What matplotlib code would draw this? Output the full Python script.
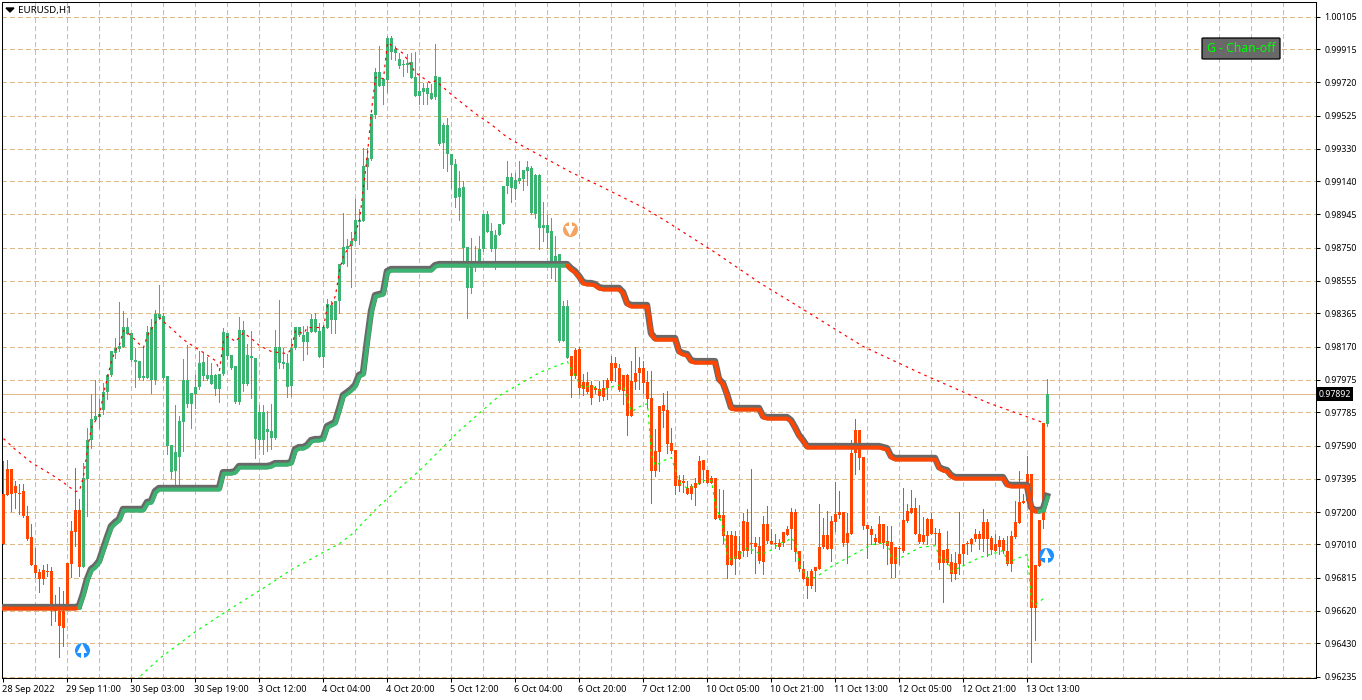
import matplotlib
matplotlib.use("Agg")
import matplotlib.pyplot as plt
import matplotlib.transforms as mtrans
from matplotlib.patches import FancyBboxPatch, Polygon
import numpy as np

# all prices in points (1/100000), bars are hourly and counted from the left
highs = [97502,97508,97455,97385,97367,97367,97238,97132,96992,96869,
    96887,96898,96875,96711,96763,96740,96904,97150,97461,97279,
    97490,97695,97894,97977,97865,97959,98012,98147,98223,98434,
    98381,98340,98252,98164,98088,98164,98293,98334,98387,98533,
    98369,97995,97596,97830,97766,98100,98182,97900,98006,98147,
    98135,98112,98076,98012,98012,98282,98252,98123,98059,98346,
    98323,98188,98264,98106,97830,97830,97795,97836,98270,98446,
    98164,98129,98217,98287,98287,98293,98293,98363,98369,98311,
    98287,98452,98440,98440,98657,98956,98804,98844,99038,98979,
    99337,99337,99536,99806,99935,99742,99994,99994,99935,99894,
    99853,99888,99894,99900,99777,99718,99718,99712,99947,99754,
    99484,99513,99302,99273,99202,99144,98757,98809,98762,98821,
    98950,98968,98897,98856,98891,99114,99261,99191,99191,99261,
    99208,99261,99231,99185,99185,99020,98944,98927,98821,98715,
    98440,98446,98118,98164,98170,98012,98024,97971,97942,97971,
    97977,97989,98118,98112,98071,98006,98012,98088,98170,98112,
    98088,98030,98030,97689,97824,97900,97912,97695,97566,97420,
    97420,97385,97367,97402,97531,97508,97449,97414,97402,97338,
    97332,97091,97091,97091,97062,97197,97220,97455,97056,97056,
    97179,97238,97103,97074,97044,97085,97120,97226,97220,96974,
    96916,96857,96869,96875,97250,97168,97209,97179,97379,97326,
    97202,97197,97625,97748,97684,97525,97126,97120,97074,97179,
    97132,97120,97120,96997,97003,97344,97250,97332,97285,97244,
    97173,97168,97197,97109,97103,96980,97091,96957,96968,97203,
    97015,97033,97050,97103,97091,97220,97162,97062,97074,97062,
    97050,97062,97091,97267,97443,97308,97531,97425,96887,97156,97724,97983]
body_tops = [97308,97455,97455,97350,97314,97326,97179,97051,96892,96851,
    96863,96857,96857,96640,96622,96622,96904,97091,97215,97215,
    97402,97625,97748,97766,97777,97906,98006,98147,98164,98176,
    98287,98287,98252,98094,98088,97995,98258,98287,98363,98363,
    98351,97995,97596,97554,97736,97977,97977,97900,97936,98076,
    98082,98006,98006,98006,98012,98258,98252,98123,98059,98270,
    98270,98123,98118,98106,97789,97789,97689,97678,98170,98170,
    98082,98076,98164,98287,98287,98240,98258,98334,98334,98264,
    98287,98422,98416,98440,98657,98757,98762,98792,98915,98915,
    99231,99278,99536,99782,99782,99742,99982,99982,99917,99859,
    99830,99835,99841,99754,99671,99689,99689,99660,99759,99754,
    99472,99472,99302,99243,99103,99109,98757,98668,98668,98745,
    98950,98950,98850,98827,98891,99114,99167,99167,99150,99161,
    99208,99226,99220,99179,99179,98885,98885,98850,98704,98715,
    98411,98411,98118,98153,98158,97965,97965,97947,97930,97924,
    97930,97977,98076,98076,98047,98006,98006,97971,98018,98047,
    98047,97965,97871,97560,97824,97830,97801,97607,97566,97390,
    97385,97344,97350,97373,97502,97508,97449,97402,97402,97185,
    97185,97068,97068,97062,96974,97150,97144,97021,97021,97003,
    97132,97132,97033,97021,97021,97085,97103,97202,97202,96974,
    96869,96822,96857,96875,96997,97068,97068,97150,97191,97202,
    97202,97080,97549,97684,97684,97525,97126,97103,97050,97132,
    97132,97033,97027,96997,96992,97156,97209,97226,97226,97074,
    97068,97162,97162,97080,97080,96980,96986,96910,96904,96957,
    97015,97021,97044,97074,97074,97144,97144,97050,97010,97038,
    97038,96974,97062,97144,97261,97267,97425,97425,96887,97156,97724,97892]
body_bots = [97010,97303,97308,97314,97308,97179,97045,96887,96845,96810,
    96810,96851,96640,96617,96529,96523,96646,96898,97085,96875,
    96875,97396,97625,97742,97760,97801,97906,98006,98135,98158,
    98170,98246,98094,98082,97989,97989,97989,97977,97977,98340,
    97989,97590,97437,97443,97525,97730,97836,97836,97894,97936,
    98000,97983,97953,97924,97924,98012,98118,98047,97848,97848,
    97953,97953,98106,97631,97625,97625,97672,97637,97637,98076,
    98071,97936,97942,98164,98240,98199,98199,98258,98258,98112,
    98112,98282,98329,98329,98440,98657,98745,98762,98792,98903,
    98909,99226,99273,99530,99700,99700,99736,99900,99894,99818,
    99824,99824,99748,99642,99642,99666,99654,99625,99631,99361,
    99367,99302,99238,99044,99050,98751,98516,98516,98645,98645,
    98745,98844,98745,98745,98827,98891,99114,99103,99097,99144,
    99155,99202,98956,98950,98868,98868,98838,98663,98663,98205,
    98205,98106,98000,98000,97930,97924,97906,97871,97918,97883,
    97877,97930,97971,98047,97918,97912,97766,97766,97965,98018,
    97959,97865,97443,97443,97554,97795,97601,97560,97350,97350,
    97373,97308,97308,97344,97367,97449,97373,97373,97162,97168,
    97062,96887,96887,96927,96927,96974,96974,97015,96997,96916,
    96910,97033,97015,97015,96997,97021,97068,97103,96968,96869,
    96810,96769,96769,96857,96869,96997,96986,96986,97144,97185,
    97021,97021,97074,97549,97519,97120,97103,97068,97027,97021,
    97021,97003,96898,96898,96986,96974,97150,97197,97074,97027,
    97027,97062,97074,97074,96904,96904,96904,96839,96839,96898,
    96957,97010,97010,97044,97044,97044,97044,96980,96974,96997,
    96974,96898,96898,97056,97138,97255,97267,96640,96640,96881,97156,97719]
lows = [97010,97303,97209,97226,97191,97173,97039,96887,96822,96734,
    96781,96828,96535,96564,96353,96412,96640,96822,97003,96828,
    96875,97179,97578,97742,97695,97777,97865,98000,98106,98147,
    98170,98246,98088,97936,97983,97977,97989,97900,97953,98334,
    97983,97543,97402,97367,97350,97560,97818,97695,97812,97924,
    97977,97977,97953,97889,97848,98006,98100,98041,97842,97836,
    97912,97947,97871,97519,97572,97543,97560,97572,97631,98047,
    98047,97877,97883,98158,98235,98094,98129,98258,98258,98112,
    98053,98282,98252,98252,98369,98657,98645,98522,98792,98774,
    98909,99097,99267,99513,99700,99595,99666,99859,99853,99806,
    99759,99783,99748,99642,99590,99590,99595,99625,99625,99355,
    99220,99202,99103,98991,98915,98657,98340,98487,98616,98645,
    98733,98844,98733,98627,98827,98891,99073,99020,99038,99132,
    99091,99120,98950,98927,98745,98792,98751,98575,98557,98199,
    98205,98106,97877,97989,97894,97889,97900,97836,97900,97854,
    97859,97865,97965,97971,97912,97836,97649,97766,97924,97924,
    97900,97812,97255,97414,97443,97701,97549,97549,97308,97326,
    97320,97308,97279,97244,97367,97379,97373,97373,97162,97162,
    97021,96816,96887,96839,96927,96945,96945,96962,96845,96904,
    96839,97021,97015,96992,96986,97003,97068,96986,96916,96857,
    96810,96699,96757,96740,96869,96992,96986,96916,97091,97168,
    97003,96904,97074,97425,97455,97103,96933,97015,97015,97021,
    96992,96898,96822,96822,96898,96968,97144,97197,97074,97021,
    97021,97015,97074,97015,96869,96675,96898,96798,96810,96839,
    96898,96957,96974,97033,96986,96974,96945,96957,96974,96957,
    96962,96887,96857,97050,97138,97255,97267,96318,96447,96881,97109,97707]

# thick stepped channel line, one value per bar
chan = [96634,96634,96634,96634,96634,96634,96634,96634,96634,96634,
    96634,96634,96634,96634,96634,96634,96634,96634,96634,96640,
    96711,96798,96857,96875,96904,96974,97044,97109,97132,97150,
    97209,97209,97209,97209,97209,97209,97250,97255,97314,97332,
    97332,97332,97332,97332,97332,97332,97332,97332,97332,97332,
    97332,97332,97332,97332,97332,97425,97425,97425,97431,97461,
    97461,97461,97461,97461,97461,97461,97461,97466,97478,97478,
    97478,97478,97484,97560,97572,97572,97584,97613,97619,97619,
    97625,97695,97707,97719,97795,97877,97894,97912,97936,97995,
    98006,98194,98369,98463,98469,98475,98604,98616,98616,98616,
    98616,98616,98616,98616,98616,98616,98616,98616,98639,98645,
    98645,98645,98645,98645,98645,98645,98645,98645,98645,98645,
    98645,98645,98645,98645,98645,98645,98645,98645,98645,98645,
    98645,98645,98645,98645,98645,98645,98645,98645,98645,98645,
    98645,98645,98621,98604,98575,98540,98534,98534,98528,98510,
    98505,98505,98505,98505,98505,98481,98417,98405,98405,98405,
    98405,98405,98240,98211,98211,98211,98211,98211,98211,98135,
    98123,98118,98082,98076,98076,98076,98076,98076,98076,97971,
    97947,97883,97806,97801,97801,97801,97801,97801,97801,97801,
    97754,97748,97748,97748,97748,97748,97748,97730,97689,97643,
    97613,97578,97578,97578,97578,97578,97578,97578,97578,97578,
    97578,97578,97578,97578,97578,97578,97578,97578,97578,97578,
    97572,97566,97519,97508,97508,97508,97508,97508,97508,97508,
    97508,97508,97508,97508,97455,97443,97437,97408,97396,97396,
    97396,97396,97396,97396,97396,97396,97396,97396,97396,97396,
    97396,97356,97350,97350,97350,97350,97350,97220,97203,97203,97209,97285]

red_bars = [0,3,7,12,15,18,19,20,21,22,23,24,25,26,27,28,29,30,32,33,35,36,38,39,40,42,45,48,50,53,54,55,
    56,57,58,60,62,64,67,71,72,73,75,76,80,81,82,83,84,85,87,89,90,91,92,93,95,96,100,103,107,108,112,
    118,122,126,131,137,142,149,160,165,178,189,198,215,230,246,260]
red_vals = [97631,97566,97490,97420,97373,97320,97326,97408,97566,97695,97736,97766,97894,97989,98088,98147,
    98182,98264,98235,98205,98164,98235,98311,98340,98317,98276,98211,98164,98135,98088,98030,98205,
    98229,98217,98199,98252,98217,98176,98141,98129,98158,98264,98246,98282,98282,98411,98411,98469,
    98616,98704,98774,98909,99103,99302,99554,99748,99742,99953,99888,99777,99712,99730,99648,
    99536,99472,99396,99331,99255,99191,99114,98985,98915,98721,98545,98416,98170,98006,97842,97724]

green_bars = [33,39,48,56,66,72,84,87,94,104,114,124,134,141,142,144,145,147,149,152,153,155,156,157,159,161,
    162,163,165,167,168,169,171,173,175,177,178,179,180,181,182,186,189,191,194,196,197,198,199,201,203,207,
    212,217,221,222,224,229,233,234,236,237,239,244,250,251,254,256,257,258,260]
green_vals = [96212,96341,96499,96622,96769,96863,97015,97068,97238,97443,97678,97883,98018,98082,98035,97953,
    97930,97942,97912,97930,97947,97936,97854,97789,97818,97836,97531,97472,97502,97519,97443,97373,97338,
    97356,97385,97385,97238,97179,97091,96945,96916,96992,96957,96962,97015,97033,97050,97015,96887,96816,
    96816,96881,96945,97009,97021,96933,96927,96992,97003,96933,96916,96851,96875,96933,96974,96904,96933,
    96951,96681,96657,96693]

# arrows: bar, price
up_arrows = [(19.75, 96394), (260.75, 96951)]
down_arrows = [(141.75, 98862)]

price_ticks = ["1.00105","0.99915","0.99720","0.99525","0.99330","0.99140","0.98945","0.98750","0.98555","0.98365",
    "0.98170","0.97975","0.97785","0.97590","0.97395","0.97200","0.97010","0.96815","0.96620","0.96430","0.96235"]
time_ticks = ["28 Sep 2022","29 Sep 11:00","30 Sep 03:00","30 Sep 19:00","3 Oct 12:00","4 Oct 04:00","4 Oct 20:00",
    "5 Oct 12:00","6 Oct 04:00","6 Oct 20:00","7 Oct 12:00","10 Oct 05:00","10 Oct 21:00","11 Oct 13:00",
    "12 Oct 05:00","12 Oct 21:00","13 Oct 13:00"]
last_price = 0.97892

GREEN = "#3CB371"
ORANGE = "#FF4500"
TAN = "#DEB887"
FONT = "Noto Sans"
PX = 72 / 100  # one pixel in points


def draw_marker(ax, bar, price, color, up):
    ax.plot([bar], [price / 1e5], "o", color=color, ms=15 * PX, mew=0, zorder=8)
    head = "^" if up else "v"
    sign = 1 if up else -1
    off = mtrans.offset_copy(ax.transData, fig=ax.figure, x=0, y=sign * 2, units="dots")
    ax.plot([bar], [price / 1e5], head, color="white", ms=10 * PX, mew=0, zorder=9, transform=off)
    off2 = mtrans.offset_copy(ax.transData, fig=ax.figure, x=0, y=-sign * 4, units="dots")
    ax.plot([bar], [price / 1e5], "|", color="white", ms=8 * PX, mew=3 * PX, zorder=9, transform=off2)


def main():
    fig = plt.figure(figsize=(13.62, 7.0), dpi=100)
    ax = fig.add_axes([2 / 1362, 1 - 678 / 700, 1314 / 1362, 676 / 700])

    bars = np.arange(len(highs))
    hi = np.array(highs) / 1e5
    lo = np.array(lows) / 1e5
    top = np.array(body_tops) / 1e5
    bot = np.array(body_bots) / 1e5
    line = np.array(chan) / 1e5

    colors = [ORANGE if (i < 20 or i > 141) and i != 261 else GREEN for i in bars]
    ax.vlines(bars, lo, hi, colors=colors, lw=1 * PX, zorder=3, antialiased=False)
    ax.bar(bars, top - bot, bottom=bot, width=0.75, color=colors, linewidth=0, zorder=4)

    # grey shadow sits a pixel above the coloured line
    up1 = mtrans.offset_copy(ax.transData, fig=fig, x=-0.5, y=1.5, units="dots")
    ax.plot(bars, line, color="#696969", lw=6.5 * PX, zorder=5, transform=up1, solid_joinstyle="round")
    ax.plot(bars[:20], line[:20], color=ORANGE, lw=4 * PX, zorder=6)
    ax.plot(bars[19:142], line[19:142], color=GREEN, lw=4 * PX, zorder=6)
    ax.plot(bars[141:261], line[141:261], color=ORANGE, lw=4 * PX, zorder=6)
    ax.plot(bars[259:], line[259:], color=GREEN, lw=4 * PX, zorder=6)

    ax.plot(red_bars, np.array(red_vals) / 1e5, color="#FF0000", lw=1.2 * PX, ls=(0, (2.2, 3.5)), zorder=7)
    ax.plot(green_bars, np.array(green_vals) / 1e5, color="#00FF00", lw=1.2 * PX, ls=(0, (2.2, 3.5)), zorder=7)

    for b, p in up_arrows:
        draw_marker(ax, b, p, "#1E90FF", True)
    for b, p in down_arrows:
        draw_marker(ax, b, p, "#F4A460", False)

    ax.axhline(last_price, color=TAN, lw=1 * PX, zorder=2, antialiased=False)

    # just under half a pixel so wicks and bodies snap to the same columns
    ax.set_xlim(-0.3725, 328.1275)
    ax.set_ylim(0.96227, 1.00191)

    yticks = [float(t) for t in price_ticks]
    ax.set_yticks(yticks)
    ax.set_yticklabels(price_ticks, fontname=FONT, fontsize=6.3, color="black")
    ax.yaxis.tick_right()
    ax.tick_params(axis="y", length=3, width=0.75, pad=3)

    xticks = np.arange(0, 257, 16)
    ax.set_xticks(xticks)
    ax.set_xticklabels(time_ticks, fontname=FONT, fontsize=6.6, color="black", ha="left")
    ax.tick_params(axis="x", length=3, width=0.75, pad=2)
    left = mtrans.ScaledTranslation(-1.5 / 100, 0, fig.dpi_scale_trans)
    for lab in ax.get_xticklabels():
        lab.set_transform(lab.get_transform() + left)

    ax.set_xticks(np.arange(8, 328, 8), minor=True)
    ax.tick_params(axis="x", which="minor", length=0)
    ax.grid(True, axis="y", color=TAN, lw=1 * PX, ls=(0, (5, 4)), zorder=1, antialiased=False)
    ax.grid(True, axis="x", which="both", color=TAN, lw=1 * PX, ls=(0, (5, 4)), zorder=1, antialiased=False)
    ax.xaxis.get_major_ticks()[0].gridline.set_visible(False)
    ax.set_axisbelow(True)
    for s in ax.spines.values():
        s.set_linewidth(0.75)

    # last price tag
    ax.text(1.0018, last_price, "0.97892", transform=ax.get_yaxis_transform(), color="white",
        fontname=FONT, fontsize=6.3, va="center", ha="left", zorder=12,
        bbox=dict(boxstyle="square,pad=0.3", fc="black", ec="black", lw=0))

    # chart title and its little triangle
    fig.text(18 / 1362, 1 - 10.5 / 700, "EURUSD,H1", fontname=FONT, fontsize=7.0, va="center", ha="left")
    fig.add_artist(Polygon([[6 / 1362, 1 - 8 / 700], [14 / 1362, 1 - 8 / 700], [10 / 1362, 1 - 12 / 700]],
        closed=True, color="black", transform=fig.transFigure))

    # button
    fig.add_artist(FancyBboxPatch((1202 / 1362, 1 - 59 / 700), 78 / 1362, 21 / 700,
        boxstyle="round,pad=0,rounding_size=0.001", transform=fig.transFigure,
        fc="#696969", ec="black", lw=0.9))
    fig.text(1241 / 1362, 1 - 49 / 700, "G - Chan-off", color="#00FF00", fontname=FONT, fontsize=8.8,
        va="center", ha="center")

    fig.savefig("out.png", dpi=100)


if __name__ == "__main__":
    main()
